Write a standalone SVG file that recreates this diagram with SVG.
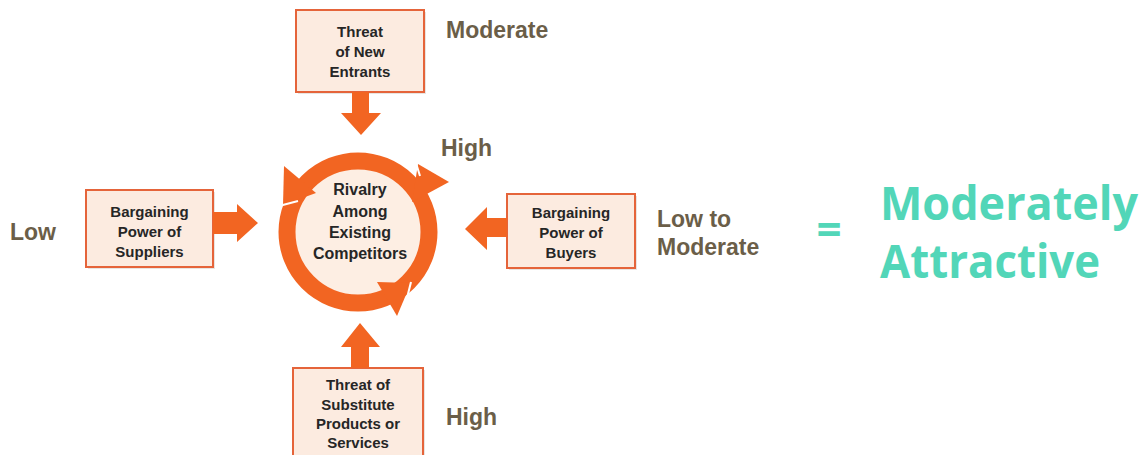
<svg xmlns="http://www.w3.org/2000/svg" width="1148" height="455" viewBox="0 0 1148 455">
<style>
.box{fill:#fcebe0;stroke:#e5643a;stroke-width:2}
.shadow{fill:#d9d4cf;opacity:0.6}
.bt{font-family:"Liberation Sans",Arial,sans-serif;font-weight:bold;font-size:15px;fill:#262626;text-anchor:middle}
.ct{font-family:"Liberation Sans",Arial,sans-serif;font-weight:bold;font-size:16px;fill:#262626;text-anchor:middle}
.lab{font-family:"Liberation Sans",Arial,sans-serif;font-weight:bold;font-size:23px;fill:#6b5e48}
.res{font-family:"Open Sans","Liberation Sans",sans-serif;font-weight:bold;fill:#52d6b8}
.or{fill:#f26522}
</style>
<rect width="1148" height="455" fill="#ffffff"/>
<g id="rivalry">
<circle cx="358" cy="232" r="71" fill="#fdeee3" stroke="#f26522" stroke-width="17"/>
<polygon class="or" points="284,166 316,193 283,205"/>
<polygon class="or" points="418,164 449,182 412,202"/>
<polygon class="or" points="377,282 411,283 397,316"/>
<line x1="279" y1="206" x2="298" y2="201" stroke="#fff" stroke-width="2"/>
<line x1="415" y1="160" x2="420" y2="176" stroke="#fff" stroke-width="2"/>
<line x1="411" y1="282" x2="407" y2="298" stroke="#fff" stroke-width="2"/>
<text class="ct" x="360" y="195">Rivalry</text>
<text class="ct" x="360" y="217">Among</text>
<text class="ct" x="360" y="238">Existing</text>
<text class="ct" x="360" y="259">Competitors</text>
</g>
<g id="new-entrants">
<rect class="shadow" x="298" y="12" width="128" height="82"/>
<rect class="box" x="296" y="10" width="128" height="82"/>
<text class="bt" x="360" y="37">Threat</text>
<text class="bt" x="360" y="57">of New</text>
<text class="bt" x="360" y="77">Entrants</text>
</g>
<g id="suppliers">
<rect class="shadow" x="88" y="192" width="127" height="77"/>
<rect class="box" x="86" y="190" width="127" height="77"/>
<text class="bt" x="149.5" y="217">Bargaining</text>
<text class="bt" x="149.5" y="237">Power of</text>
<text class="bt" x="149.5" y="257">Suppliers</text>
</g>
<g id="buyers">
<rect class="shadow" x="509" y="196" width="128" height="74"/>
<rect class="box" x="507" y="194" width="128" height="74"/>
<text class="bt" x="571" y="218">Bargaining</text>
<text class="bt" x="571" y="238">Power of</text>
<text class="bt" x="571" y="258">Buyers</text>
</g>
<g id="substitutes">
<rect class="shadow" x="295" y="370" width="130" height="95"/>
<rect class="box" x="293" y="368" width="130" height="95"/>
<text class="bt" x="358" y="390">Threat of</text>
<text class="bt" x="358" y="410">Substitute</text>
<text class="bt" x="358" y="429">Products or</text>
<text class="bt" x="358" y="448">Services</text>
</g>
<g id="connectors">
<polygon class="or" points="352,92 369,92 369,113 381,113 361,135 341,113 352,113"/>
<polygon class="or" points="351,368 369,368 369,347 380,347 360,323 341,347 351,347"/>
<polygon class="or" points="213,212 237,212 237,204 258,223 237,242 237,234 213,234"/>
<polygon class="or" points="507,218 487,218 487,207 465,229 487,250 487,237 507,237"/>
</g>
<g id="labels">
<text class="lab" x="446" y="38">Moderate</text>
<text class="lab" x="441" y="156">High</text>
<text class="lab" x="10" y="240">Low</text>
<text class="lab" x="657" y="227">Low to</text>
<text class="lab" x="657" y="255">Moderate</text>
<text class="lab" x="446" y="425">High</text>
</g>
<g id="result">
<text class="res" x="829" y="245" font-size="44" text-anchor="middle">=</text>
<text class="res" x="880" y="220" font-size="47" textLength="258" lengthAdjust="spacingAndGlyphs">Moderately</text>
<text class="res" x="880" y="278" font-size="47" textLength="220" lengthAdjust="spacingAndGlyphs">Attractive</text>
</g>
</svg>
